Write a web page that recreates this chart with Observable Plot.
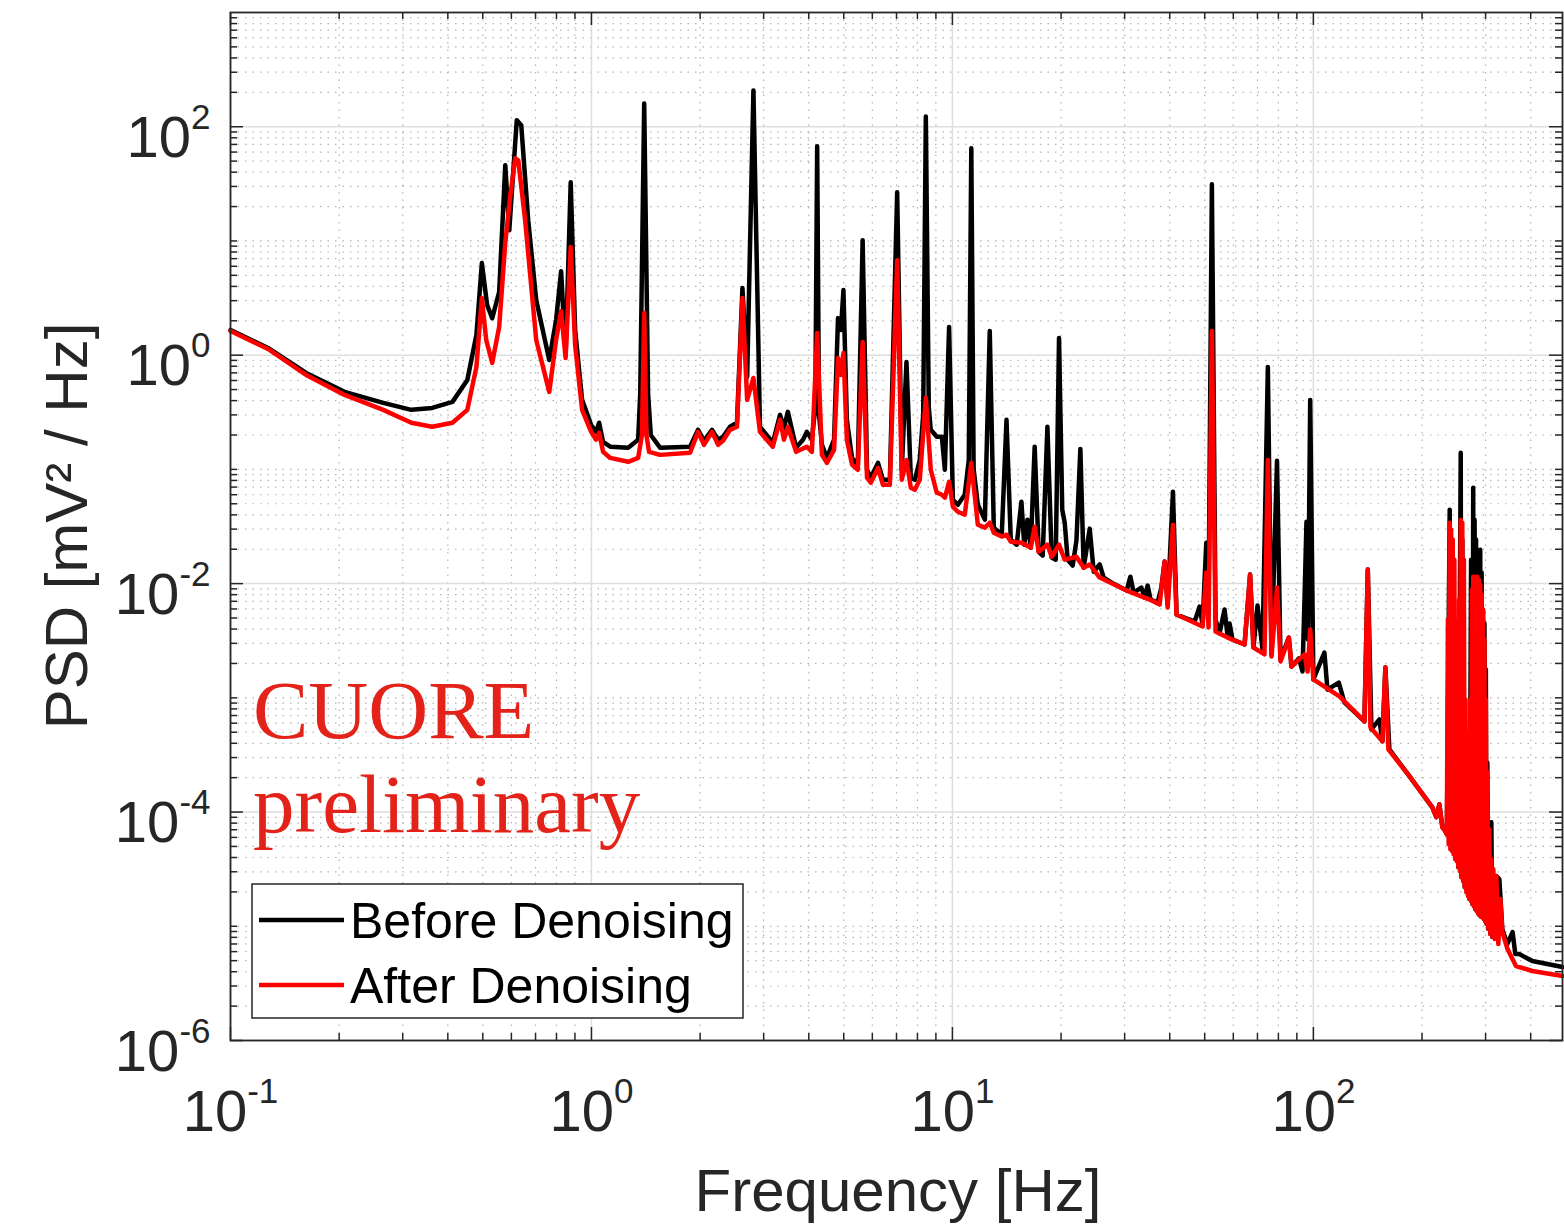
<!DOCTYPE html>
<html>
<head>
<meta charset="utf-8">
<script src="https://cdn.jsdelivr.net/npm/d3@7"></script>
<script src="https://cdn.jsdelivr.net/npm/@observablehq/plot@0.6"></script>
<style>
html,body{margin:0;padding:0;background:#fff;}
#chart{width:1564px;height:1226px;overflow:hidden;}
#chart svg{display:block;}
</style>
</head>
<body>
<div id="chart"></div>
<script>
// ---- data (frequency [Hz], PSD [mV^2/Hz]) ----
const seriesNames = ["Before Denoising", "After Denoising"];
const seriesColors = ["#000000", "#ff0000"];

const beforePoints = [
[0.1,1.66],[0.127,1.156],[0.162,0.698],[0.207,0.477],[0.265,0.382],[0.317,0.332],[0.362,0.345],[0.412,0.39],[0.453,0.607],[0.48,1.5],
[0.497,6.4],[0.514,2.75],[0.531,2.11],[0.555,3.57],[0.577,46],[0.592,12.4],[0.621,114],[0.639,103],[0.668,15.2],[0.703,3.04],
[0.764,0.908],[0.798,2.03],[0.824,5.44],[0.848,1.0],[0.876,32.6],[0.901,1.66],[0.942,0.406],[0.998,0.245],[1.03,0.213],[1.05,0.256],
[1.077,0.174],[1.127,0.158],[1.264,0.155],[1.347,0.182],[1.365,0.46],[1.4,160],[1.435,0.46],[1.46,0.2],[1.549,0.155],[1.876,0.158],
[1.974,0.222],[2.05,0.178],[2.158,0.222],[2.243,0.182],[2.315,0.193],[2.42,0.236],[2.53,0.256],[2.62,3.87],[2.7,0.645],[2.81,208],
[2.93,0.236],[3.18,0.171],[3.33,0.3],[3.415,0.231],[3.5,0.319],[3.69,0.155],[3.855,0.182],[3.95,0.213],[4.08,0.182],[4.17,0.35],
[4.22,67.4],[4.27,0.3],[4.35,0.164],[4.49,0.126],[4.7,0.182],[4.82,2.11],[4.91,1.66],[4.99,3.715],[5.1,0.272],[5.27,0.126],
[5.47,0.11],[5.64,10.16],[5.8,0.0992],[5.94,0.0845],[6.22,0.114],[6.42,0.0811],[6.71,0.0811],[7.03,26.7],[7.24,0.0992],[7.46,0.872],
[7.67,0.0845],[7.87,0.0811],[8.12,0.121],[8.3,0.3],[8.44,123],[8.6,0.35],[8.71,0.222],[9.05,0.193],[9.35,0.193],[9.53,0.0992],
[9.79,1.765],[10.03,0.0542],[10.35,0.049],[10.82,0.06],[11.1,0.12],[11.28,64.7],[11.45,0.1],[11.76,0.049],[12.3,0.0363],[12.69,1.627],
[13.02,0.0309],[13.7,0.0268],[14.12,0.272],[14.51,0.0243],[15.07,0.0219],[15.53,0.0521],[15.81,0.0219],[16.14,0.0363],[16.48,0.0206],[16.9,0.158],
[17.34,0.019],[17.79,0.0176],[18.33,0.236],[18.84,0.0169],[19.33,0.0162],[19.74,1.413],[20.15,0.0444],[20.47,0.0341],[20.86,0.0162],[21.54,0.0144],
[22.06,0.0238],[22.62,0.151],[23.1,0.0138],[24.01,0.0303],[24.63,0.0127],[25.59,0.0147],[26.25,0.0113],[27.62,0.0102],[30.39,0.00869],[31.12,0.0115],
[31.78,0.00834],[33.38,0.00923],[34.08,0.00754],[34.74,0.00961],[35.4,0.00725],[37.03,0.00682],[37.91,0.00923],[38.72,0.0156],[39.47,0.00655],[40.83,0.0637],
[41.78,0.00536],[46.88,0.00465],[48.4,0.0063],[49.32,0.00438],[50.5,0.0228],[51.25,0.00725],[52.34,31.4],[53.58,0.00485],[54.95,0.00366],[56.75,0.00593],
[57.83,0.00351],[58.6,0.00447],[59.7,0.00324],[64.48,0.00293],[66.78,0.012],[68.24,0.00276],[70.02,0.00642],[72.3,0.00265],[74.8,0.789],[76.56,0.0024],
[79.3,0.119],[81.1,0.00217],[85.5,0.00337],[87.0,0.00188],[91.2,0.00221],[93.3,0.0017],[94.5,0.00725],[95.7,0.0348],[96.6,0.00324],[98.0,0.406],
[100,0.00145],[107.3,0.00249],[109.4,0.00118],[117.6,0.00136],[121.9,0.000912],[138.5,0.000622],[141.5,0.0133],[144.8,0.00053],[152.4,0.000647],[155.3,0.000416],
[158.3,0.00184],[162.4,0.000354],[184.5,0.000206],[213.6,0.00011],[219.1,0.00009],[223.4,0.000117],[227.7,0.0000736],[232.1,0.0000679],[234.3,0.0000639],[238.6,0.0444],
[242.0,0.000046],[245.8,0.00484],[248.9,0.00136],[250.8,0.000433],[252.1,0.0000329],[256.0,0.14],[257.2,0.0000269],[258.6,0.0243],[262.6,0.000022],[266.7,0.000158],
[270.8,0.0000173],[273.5,0.0162],[276.0,0.0000156],[277.2,0.0691],[278.5,0.000015],[279.7,0.0363],[281.0,0.0000141],[282.3,0.0243],[283.5,0.0000136],[284.8,0.0141],
[286.0,0.000013],[287.3,0.0162],[288.6,0.0000125],[289.9,0.0198],[291.2,0.0000122],[292.5,0.0125],[293.8,0.000012],[295.1,0.00593],[296.5,0.0000116],[297.8,0.0045],
[299.1,0.0000111],[300.5,0.00177],[301.8,0.0000105],[303.3,0.000272],[305.3,0.00000945],[307.2,0.0000814],[309.2,0.00000855],[311.2,0.0000814],[313.2,0.00000805],[317.2,0.0000275],
[321.3,0.0000275],[327.5,0.0000259],[333.8,0.00000945],[344.5,0.00000699],[356.4,0.0000089],[362.6,0.00000571],[371.9,0.00000571],[404.1,0.00000496],[490,0.0000044]
];

const afterPoints = [
[0.1,1.627],[0.127,1.133],[0.162,0.671],[0.207,0.449],[0.265,0.332],[0.317,0.256],[0.362,0.236],[0.412,0.256],[0.453,0.332],[0.48,0.788],
[0.497,3.16],[0.511,1.358],[0.531,0.855],[0.555,1.765],[0.577,9.57],[0.596,25.1],[0.615,52.9],[0.627,50.8],[0.655,15.2],[0.703,1.358],
[0.764,0.477],[0.798,1.358],[0.824,2.43],[0.848,0.945],[0.876,8.83],[0.901,1.228],[0.942,0.332],[0.998,0.213],[1.03,0.182],[1.05,0.209],
[1.077,0.1425],[1.127,0.126],[1.264,0.1165],[1.347,0.126],[1.38,0.2],[1.4,2.34],[1.42,0.2],[1.444,0.1425],[1.549,0.134],[1.876,0.14],
[1.974,0.213],[2.05,0.164],[2.158,0.213],[2.243,0.164],[2.315,0.178],[2.42,0.222],[2.53,0.236],[2.62,3.16],[2.7,0.406],[2.81,0.632],
[2.93,0.213],[3.18,0.158],[3.33,0.272],[3.415,0.182],[3.5,0.236],[3.69,0.1425],[3.95,0.158],[4.08,0.1425],[4.22,1.563],[4.35,0.134],
[4.49,0.114],[4.7,0.148],[4.82,0.945],[4.91,0.671],[4.99,1.045],[5.1,0.182],[5.27,0.11],[5.47,0.0992],[5.64,1.304],[5.8,0.0845],
[5.94,0.0764],[6.22,0.103],[6.42,0.0733],[6.71,0.0733],[7.03,6.79],[7.24,0.0811],[7.46,0.121],[7.67,0.0691],[7.87,0.0663],[8.12,0.0811],
[8.44,0.423],[8.71,0.0992],[9.05,0.0625],[9.35,0.06],[9.53,0.0565],[9.79,0.0779],[10.03,0.0471],[10.35,0.0426],[10.82,0.0401],[11.28,0.114],
[11.76,0.0328],[12.3,0.0309],[12.69,0.0341],[13.02,0.0279],[13.7,0.0258],[14.12,0.0268],[14.51,0.0233],[15.56,0.0228],[16.48,0.0206],[16.9,0.0315],
[17.34,0.019],[18.33,0.0219],[18.84,0.0172],[19.74,0.0219],[20.47,0.0162],[22.06,0.0172],[23.1,0.0138],[24.01,0.0147],[25.59,0.0113],[30.39,0.00869],
[35.19,0.00725],[37.5,0.00655],[38.72,0.0156],[39.47,0.00617],[40.83,0.0328],[41.78,0.00536],[49.32,0.00421],[50.5,0.0125],[51.25,0.00412],[52.34,1.627],
[53.58,0.0038],[57.83,0.00337],[64.48,0.00293],[66.78,0.012],[68.24,0.00276],[73.2,0.0024],[74.8,0.121],[76.56,0.0023],[79.3,0.00923],[81.1,0.00208],
[85.5,0.00337],[87.0,0.00188],[94.5,0.0024],[96.4,0.0017],[98.0,0.00396],[100,0.00145],[118.1,0.00103],[138.5,0.000622],[141.5,0.0133],[143.9,0.000551],
[155.3,0.000416],[158.3,0.00184],[161.4,0.000354],[184.5,0.000206],[213.6,0.00011],[219.1,0.00009],[223.4,0.000117],[227.7,0.0000736],[232.1,0.0000679],[234.3,0.0000639],
[235.9,0.00484],[237.0,0.0000523],[238.6,0.0341],[239.6,0.0000473],[240.8,0.0296],[242.0,0.000046],[243.3,0.0243],[244.5,0.0000428],[245.8,0.0162],[247.1,0.0000387],
[248.2,0.00265],[249.5,0.0000371],[250.8,0.000648],[252.1,0.0000329],[253.4,0.00725],[254.7,0.0000304],[256.0,0.0363],[257.2,0.0000269],[258.6,0.0341],[259.9,0.0000248],
[261.2,0.0162],[262.6,0.000022],[263.9,0.000968],[265.3,0.0000199],[266.7,0.000158],[268.0,0.0000184],[269.4,0.000117],[270.8,0.0000173],[272.1,0.000968],[273.5,0.0000166],
[274.8,0.00886],[276.0,0.0000156],[277.2,0.0115],[278.5,0.000015],[279.7,0.0115],[281.0,0.0000141],[282.3,0.0115],[283.5,0.0000136],[284.8,0.0115],[286.0,0.000013],
[287.3,0.01084],[288.6,0.0000125],[289.9,0.0098],[291.2,0.0000122],[292.5,0.00801],[293.8,0.000012],[295.1,0.00593],[296.5,0.0000116],[297.8,0.00324],[299.1,0.0000111],
[300.5,0.000968],[301.8,0.0000105],[303.3,0.000223],[305.3,0.00000945],[307.2,0.0000707],[309.2,0.00000855],[311.2,0.0000387],[313.2,0.00000805],[315.2,0.0000316],[318.2,0.00000773],
[321.3,0.0000275],[325.4,0.00000699],[329.6,0.0000173],[333.8,0.0000089],[345.0,0.00000632],[364.1,0.00000449],[404.1,0.00000406],[490,0.00000367]
];

const xTicks = [0.1, 1, 10, 100];
const xTickExponents = ["-1", "0", "1", "2"];
const yTicks = [1e-6, 1e-4, 1e-2, 1, 100];
const yTickExponents = ["-6", "-4", "-2", "0", "2"];
const xLabel = "Frequency [Hz]";
const yLabel = "PSD [mV\u00B2 / Hz]";
const watermark = ["CUORE", "preliminary"];

// ---- layout ----
const W = 1564, H = 1226, mL = 230, mR = 2, mT = 12, mB = 186;
const fw = W - mL - mR, fh = H - mT - mB;
const xDomain = [0.1, 490], yDomain = [1e-6, 1e3];
const axisColor = "#262626";

const xMinor = [];
for (const d of [0.1, 1, 10, 100]) for (let m = 2; m <= 9; m++) { const v = m * d; if (v < xDomain[1]) xMinor.push(v); }
const yMinor = [];
for (let k = -6; k <= 2; k++) { const d = Math.pow(10, k); for (let m = 2; m <= 9; m++) yMinor.push(m * d); if (k % 2 !== 0) yMinor.push(d); }

const before = beforePoints.map(([f, v]) => ({series: seriesNames[0], f, v}));
const after = afterPoints.map(([f, v]) => ({series: seriesNames[1], f, v}));

function expFor(ticks, exps, d) {
  const i = ticks.findIndex(t => Math.abs(Math.log10(t / d)) < 1e-9);
  return i >= 0 ? exps[i] : String(Math.round(Math.log10(d)));
}

const minorGrid = {stroke: "#b4b4b4", strokeWidth: 1.2, strokeDasharray: "1.5,6"};
const majorGrid = {stroke: "#dedede", strokeWidth: 1.5};
const tk = {stroke: axisColor, strokeWidth: 1.5};

const svg = Plot.plot({
  width: W, height: H,
  marginTop: mT, marginRight: mR, marginBottom: mB, marginLeft: mL,
  style: {fontFamily: "'Liberation Sans', Arial, Helvetica, sans-serif", color: axisColor, background: "#fff", overflow: "visible"},
  x: {type: "log", domain: xDomain},
  y: {type: "log", domain: yDomain},
  marks: [
    Plot.ruleX(xMinor, minorGrid),
    Plot.ruleY(yMinor, minorGrid),
    Plot.ruleX(xTicks, majorGrid),
    Plot.ruleY(yTicks, majorGrid),
    Plot.line(before, {x: "f", y: "v", stroke: seriesColors[0], strokeWidth: 4.5, strokeLinejoin: "round"}),
    Plot.line(after, {x: "f", y: "v", stroke: seriesColors[1], strokeWidth: 4.5, strokeLinejoin: "round"}),
    Plot.ruleX(xTicks, {...tk, insetTop: fh - 13}),
    Plot.ruleX(xTicks, {...tk, insetBottom: fh - 13}),
    Plot.ruleX(xMinor, {...tk, insetTop: fh - 7}),
    Plot.ruleX(xMinor, {...tk, insetBottom: fh - 7}),
    Plot.ruleY(yTicks, {...tk, insetRight: fw - 13}),
    Plot.ruleY(yTicks, {...tk, insetLeft: fw - 13}),
    Plot.ruleY(yMinor, {...tk, insetRight: fw - 7}),
    Plot.ruleY(yMinor, {...tk, insetLeft: fw - 7}),
    Plot.frame({stroke: axisColor, strokeWidth: 1.8}),
    Plot.axisX(xTicks, {anchor: "bottom", tickSize: 0, tickPadding: 0, fontSize: 58,
      tickFormat: d => "10|" + expFor(xTicks, xTickExponents, d), label: null}),
    Plot.axisY(yTicks, {anchor: "left", tickSize: 0, tickPadding: 20, fontSize: 58,
      tickFormat: d => "10|" + expFor(yTicks, yTickExponents, d), label: null})
  ]
});

document.getElementById("chart").appendChild(svg);
const S = d3.select(svg);

// superscript tick labels
function supLabels(sel, baseY) {
  sel.each(function () {
    const parts = this.textContent.split("|");
    if (parts.length < 2) return;
    const t = d3.select(this);
    t.text(null).attr("y", baseY).attr("dy", null);
    t.append("tspan").text(parts[0]);
    t.append("tspan").attr("dy", -28).attr("font-size", 35).text(parts[1]);
  });
}
supLabels(S.selectAll('g[aria-label="x-axis tick label"] text'), 90);
supLabels(S.selectAll('g[aria-label="y-axis tick label"] text'), 30);

// axis titles
const titles = S.append("g").attr("fill", axisColor).attr("font-size", 60)
  .attr("font-family", "'Liberation Sans', Arial, Helvetica, sans-serif").attr("text-anchor", "middle");
titles.append("text").attr("transform", "translate(898,1211)").text(xLabel);
titles.append("text").attr("transform", "translate(87,526) rotate(-90)").text(yLabel);

// watermark
const wm = S.append("g").attr("fill", "#e32219").attr("text-anchor", "start")
  .attr("font-family", "'Liberation Serif', 'Times New Roman', serif").attr("font-size", 83);
wm.append("text").attr("x", 253).attr("y", 738).text(watermark[0]);
wm.append("text").attr("x", 253).attr("y", 832).text(watermark[1]);

// legend
const lg = S.append("g").attr("font-family", "'Liberation Sans', Arial, sans-serif")
  .attr("font-size", 50).attr("fill", "#000").attr("text-anchor", "start");
lg.append("rect").attr("x", 252).attr("y", 884).attr("width", 491).attr("height", 134)
  .attr("fill", "#fff").attr("stroke", axisColor).attr("stroke-width", 1.5);
const rowsY = [920, 985];
seriesNames.forEach((name, i) => {
  lg.append("line").attr("x1", 259).attr("x2", 344).attr("y1", rowsY[i]).attr("y2", rowsY[i])
    .attr("stroke", seriesColors[i]).attr("stroke-width", 4.5);
  lg.append("text").attr("x", 350).attr("y", rowsY[i] + 18).text(name);
});
</script>
</body>
</html>
